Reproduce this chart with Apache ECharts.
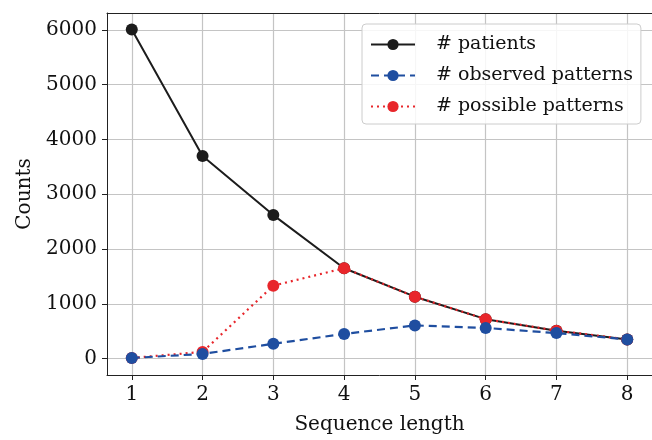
<!DOCTYPE html>
<html>
	<head>
		<meta charset="utf-8" />
		<title>Counts</title>
		<script src="https://cdn.jsdelivr.net/npm/echarts@6/dist/echarts.min.js"></script>
		<style type="text/css">
			body{margin:0;background:#fff;}
			#main{width:652px;height:440px;}
		</style>
	</head>
	<body>
		<div id="main"></div>
		<script type="text/javascript">
			var lengths=[1,2,3,4,5,6,7,8]
			var yTicks=[0,1000,2000,3000,4000,5000,6000]
			var patients=[6010,3700,2620,1650,1130,720,510,350]
			var observed=[11,85,270,450,605,560,465,350]
			var possible=[11,121,1331,1650,1130,720,510,350]

			function pairs(vals){
				return vals.map(function(v,i){return [lengths[i],v]})
			}
			var font='DejaVu Serif'
			var myChart=echarts.init(document.getElementById('main'))
			var chartOption={
				animation:false,
				grid:{left:107,right:0,top:13,bottom:64},
				legend:{
					orient:'vertical',left:362,top:24,
					padding:[11,8,8,8],
					itemWidth:44,itemHeight:14,itemGap:12,
					backgroundColor:'rgba(255,255,255,0.85)',
					borderColor:'#cccccc',borderWidth:1,borderRadius:4,
					textStyle:{fontFamily:font,fontSize:19,color:'#111',padding:[0,0,0,16]},
					data:['# patients','# observed patterns','# possible patterns']
				},
				xAxis:[{
					type:'value',min:0.65,max:8.35,
					name:'Sequence length',nameLocation:'middle',nameGap:40,
					nameTextStyle:{fontFamily:font,fontSize:20,color:'#111'},
					axisLine:{onZero:false,lineStyle:{color:'#222'}},
					axisTick:{customValues:lengths,length:5,lineStyle:{color:'#222'}},
					axisLabel:{customValues:lengths,margin:10,fontFamily:font,fontSize:20,color:'#111',
						formatter:function(v){return String(v)}},
					splitLine:{show:true,customValues:lengths,lineStyle:{color:'#c4c4c4',width:1.2}}
				},{
					// top frame line only
					type:'value',position:'top',min:0.65,max:8.35,
					axisLine:{show:true,onZero:false,lineStyle:{color:'#222'}},
					axisTick:{show:false},axisLabel:{show:false},splitLine:{show:false}
				}],
				yAxis:{
					type:'value',min:-300,max:6310,
					name:'Counts',nameLocation:'middle',nameGap:58,
					nameTextStyle:{fontFamily:font,fontSize:20,color:'#111'},
					axisLine:{show:true,onZero:false,lineStyle:{color:'#222'}},
					axisTick:{show:true,customValues:yTicks,length:5,lineStyle:{color:'#222'}},
					axisLabel:{customValues:yTicks,margin:10,fontFamily:font,fontSize:20,color:'#111',
						formatter:function(v){return String(v)}},
					splitLine:{show:true,customValues:yTicks,lineStyle:{color:'#c4c4c4',width:1.2}}
				},
				series:[{
					name:'# patients',type:'line',z:2,
					data:pairs(patients),
					symbol:'circle',symbolSize:12,
					itemStyle:{color:'#1c1c1c'},
					lineStyle:{color:'#1c1c1c',width:2}
				},{
					name:'# observed patterns',type:'line',z:4,
					data:pairs(observed),
					symbol:'circle',symbolSize:12,
					itemStyle:{color:'#1f4ea0'},
					lineStyle:{color:'#1f4ea0',width:2.2,type:[8,5]}
				},{
					name:'# possible patterns',type:'line',z:3,
					data:pairs(possible),
					symbol:'circle',symbolSize:12,
					itemStyle:{color:'#e8262b'},
					lineStyle:{color:'#e8262b',width:2.2,type:[2,4]}
				}]
			}
			myChart.setOption(chartOption)
		</script>
	</body>
</html>
